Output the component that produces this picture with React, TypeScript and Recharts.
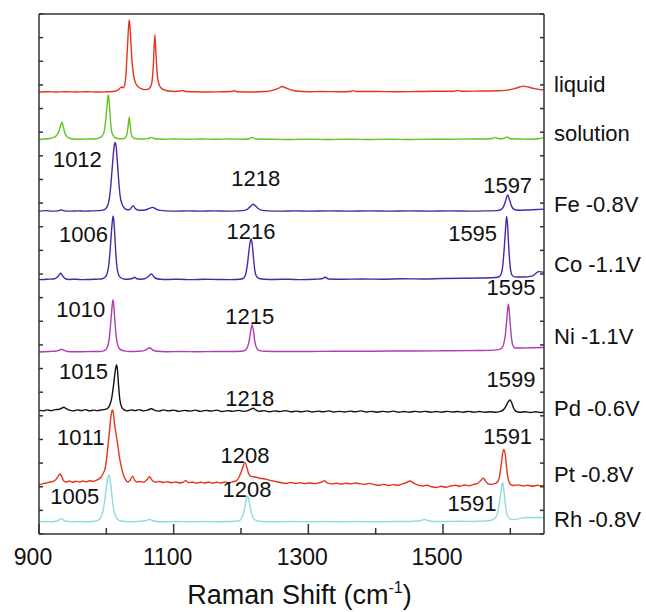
import { LineChart, Line, XAxis, YAxis, ReferenceDot } from "recharts";

type P = [number, number];

// spectra: [raman shift, stacked intensity]
const liquid: P[] = [[900,18.70],[912,18.71],[925,18.70],[940,18.71],[955,18.70],[970,18.71],[985,18.70],[1000,18.71],[1010,18.72],[1017,18.78],[1021,18.88],[1023,18.91],[1025,18.88],[1027,18.98],[1029,19.40],[1031,20.40],[1033,21.45],[1034,21.75],[1035,21.50],[1036.5,20.80],[1038,20.05],[1040,19.50],[1042,19.20],[1045,19.00],[1049,18.88],[1053,18.83],[1057,18.80],[1061,18.81],[1064,18.86],[1066.5,18.97],[1068.5,19.30],[1070,19.95],[1071,20.60],[1072,21.11],[1073,20.70],[1074.5,19.90],[1076,19.35],[1078,19.05],[1081,18.88],[1086,18.79],[1093,18.74],[1102,18.72],[1110,18.74],[1113,18.77],[1117,18.72],[1130,18.71],[1150,18.70],[1170,18.71],[1185,18.72],[1190,18.75],[1195,18.71],[1215,18.70],[1235,18.72],[1248,18.78],[1256,18.86],[1261,18.93],[1266,18.88],[1274,18.79],[1285,18.73],[1300,18.71],[1320,18.72],[1345,18.71],[1362,18.72],[1367,18.76],[1372,18.72],[1400,18.72],[1430,18.71],[1460,18.72],[1490,18.73],[1515,18.73],[1522,18.77],[1528,18.73],[1555,18.74],[1580,18.75],[1595,18.78],[1606,18.84],[1614,18.91],[1619,18.95],[1623,18.93],[1628,18.90],[1636,18.84],[1644,18.80],[1650,18.79]];

const solution: P[] = [[900,16.70],[908,16.71],[915,16.73],[920,16.76],[924,16.81],[927,16.90],[930,17.08],[932,17.28],[934,17.42],[936,17.25],[938,17.00],[941,16.83],[945,16.75],[952,16.71],[962,16.70],[972,16.71],[982,16.71],[988,16.74],[993,16.82],[996,16.95],[998.5,17.35],[1000.5,17.95],[1002,18.40],[1003,18.57],[1004,18.35],[1005.5,17.75],[1007,17.20],[1009,16.92],[1012,16.79],[1017,16.73],[1023,16.72],[1028,16.76],[1030.5,16.90],[1032.5,17.30],[1034,17.63],[1035.5,17.25],[1037,16.92],[1040,16.76],[1046,16.72],[1055,16.71],[1062,16.73],[1067,16.78],[1072,16.72],[1085,16.70],[1100,16.71],[1120,16.70],[1140,16.71],[1160,16.70],[1185,16.71],[1205,16.70],[1212,16.72],[1217,16.78],[1222,16.71],[1245,16.70],[1270,16.69],[1300,16.70],[1330,16.69],[1360,16.70],[1390,16.69],[1420,16.70],[1450,16.69],[1480,16.70],[1510,16.70],[1540,16.71],[1565,16.71],[1573,16.73],[1578,16.78],[1583,16.72],[1590,16.73],[1595,16.80],[1600,16.72],[1615,16.71],[1630,16.70],[1642,16.72],[1650,16.77]];

const fe: P[] = [[900,13.66],[910,13.68],[920,13.66],[928,13.67],[933,13.71],[938,13.67],[948,13.66],[958,13.67],[968,13.66],[978,13.67],[988,13.68],[995,13.70],[999,13.76],[1002,13.90],[1004.5,14.20],[1006.5,14.70],[1008.5,15.40],[1010.5,16.10],[1012,16.48],[1013,16.57],[1014.5,16.40],[1016.5,15.70],[1018.5,14.90],[1020.5,14.30],[1023,13.98],[1026,13.82],[1030,13.73],[1034,13.72],[1037,13.80],[1040,13.89],[1043,13.77],[1048,13.70],[1055,13.70],[1061,13.74],[1065,13.79],[1069,13.82],[1073,13.76],[1080,13.69],[1090,13.67],[1105,13.66],[1120,13.67],[1140,13.66],[1160,13.67],[1180,13.66],[1195,13.67],[1205,13.69],[1210,13.75],[1214,13.86],[1218,13.95],[1221,13.90],[1225,13.78],[1230,13.70],[1240,13.67],[1260,13.66],[1280,13.67],[1300,13.66],[1330,13.67],[1360,13.66],[1390,13.67],[1420,13.66],[1450,13.67],[1480,13.66],[1510,13.67],[1540,13.66],[1565,13.67],[1580,13.68],[1586,13.72],[1590,13.86],[1593,14.10],[1596,14.34],[1599,14.12],[1602,13.86],[1606,13.73],[1612,13.70],[1625,13.71],[1640,13.73],[1650,13.74]];

const co: P[] = [[900,10.76],[912,10.78],[922,10.79],[927,10.86],[930,10.97],[932,11.03],[934.5,10.95],[938,10.82],[945,10.77],[955,10.78],[965,10.76],[975,10.77],[985,10.78],[993,10.79],[998,10.86],[1001,11.00],[1003.5,11.35],[1005.5,11.95],[1007.5,12.75],[1009,13.25],[1010,13.45],[1011,13.30],[1012.5,12.70],[1014,11.90],[1016,11.25],[1018.5,10.95],[1022,10.83],[1028,10.78],[1035,10.79],[1039,10.82],[1042,10.86],[1045,10.80],[1051,10.78],[1057,10.80],[1062,10.88],[1065,10.97],[1067,11.00],[1069.5,10.92],[1073,10.82],[1080,10.78],[1092,10.77],[1108,10.78],[1125,10.76],[1145,10.78],[1165,10.77],[1185,10.76],[1198,10.78],[1203,10.81],[1206.5,10.95],[1209,11.30],[1211.5,11.90],[1213.5,12.35],[1215,12.48],[1216.5,12.30],[1218.5,11.70],[1220.5,11.15],[1223,10.90],[1227,10.81],[1235,10.78],[1250,10.77],[1270,10.78],[1290,10.76],[1310,10.78],[1320,10.80],[1325,10.86],[1330,10.79],[1350,10.78],[1380,10.79],[1410,10.78],[1440,10.80],[1470,10.79],[1500,10.81],[1530,10.82],[1555,10.83],[1572,10.84],[1581,10.86],[1585.5,10.95],[1588.5,11.30],[1591,12.10],[1593,12.95],[1594.5,13.43],[1596,13.05],[1597.5,12.20],[1599.5,11.40],[1602,10.98],[1606,10.88],[1615,10.87],[1625,10.88],[1633,10.92],[1638,11.03],[1642,11.10],[1650,11.07]];

const ni: P[] = [[900,7.70],[915,7.72],[926,7.74],[931,7.79],[934,7.81],[938,7.76],[948,7.71],[962,7.71],[978,7.72],[990,7.72],[997,7.76],[1001,7.88],[1004,8.20],[1006,8.75],[1008,9.45],[1009.3,9.82],[1010,9.90],[1011,9.70],[1012.5,9.10],[1014.5,8.40],[1017,7.98],[1020,7.82],[1026,7.75],[1036,7.72],[1048,7.73],[1056,7.76],[1061,7.83],[1064.5,7.88],[1068,7.80],[1075,7.73],[1090,7.71],[1110,7.72],[1135,7.71],[1160,7.72],[1185,7.72],[1200,7.73],[1206,7.77],[1209.5,7.90],[1212,8.15],[1214.5,8.60],[1216.5,8.84],[1218.5,8.60],[1220.5,8.15],[1223,7.88],[1227,7.77],[1236,7.73],[1260,7.72],[1300,7.72],[1340,7.73],[1380,7.73],[1420,7.74],[1460,7.74],[1500,7.75],[1540,7.76],[1570,7.77],[1582,7.80],[1587,7.86],[1590,8.02],[1592.5,8.40],[1594.5,9.00],[1596,9.50],[1597,9.72],[1598,9.55],[1599.5,9.00],[1601.5,8.35],[1603.5,8.00],[1607,7.87],[1615,7.87],[1630,7.88],[1650,7.89]];

const pd: P[] = [[900,5.24],[906,5.21],[912,5.25],[918,5.22],[924,5.26],[930,5.28],[934,5.33],[937,5.36],[940,5.31],[945,5.24],[951,5.21],[957,5.25],[963,5.22],[969,5.26],[975,5.21],[981,5.24],[987,5.22],[993,5.25],[998,5.27],[1002,5.32],[1005,5.45],[1008,5.75],[1010.5,6.25],[1013,6.85],[1015,7.15],[1016.5,6.95],[1018,6.35],[1020,5.70],[1022.5,5.38],[1026,5.26],[1031,5.21],[1037,5.25],[1043,5.22],[1049,5.26],[1055,5.21],[1061,5.24],[1067,5.30],[1072,5.23],[1078,5.20],[1085,5.25],[1092,5.21],[1100,5.24],[1108,5.19],[1116,5.23],[1124,5.20],[1132,5.24],[1140,5.19],[1148,5.23],[1156,5.20],[1164,5.24],[1172,5.18],[1180,5.22],[1188,5.19],[1196,5.23],[1204,5.19],[1210,5.22],[1214,5.27],[1218,5.32],[1222,5.25],[1227,5.19],[1234,5.22],[1242,5.17],[1250,5.21],[1258,5.18],[1266,5.22],[1274,5.17],[1282,5.20],[1290,5.17],[1298,5.21],[1306,5.16],[1314,5.20],[1322,5.17],[1330,5.21],[1338,5.16],[1346,5.19],[1354,5.16],[1362,5.20],[1370,5.17],[1378,5.21],[1386,5.16],[1394,5.19],[1402,5.15],[1410,5.19],[1418,5.16],[1426,5.20],[1434,5.15],[1442,5.18],[1450,5.15],[1458,5.19],[1466,5.16],[1474,5.19],[1482,5.15],[1490,5.18],[1498,5.15],[1506,5.19],[1514,5.16],[1522,5.18],[1530,5.15],[1538,5.19],[1546,5.15],[1554,5.18],[1562,5.15],[1570,5.17],[1578,5.15],[1584,5.18],[1589,5.24],[1593,5.38],[1596.5,5.58],[1599.5,5.67],[1602,5.55],[1605,5.32],[1608,5.20],[1614,5.15],[1622,5.17],[1630,5.14],[1638,5.17],[1645,5.14],[1650,5.15]];

const pt: P[] = [[900,2.07],[905,2.12],[911,2.16],[917,2.20],[922,2.24],[926,2.33],[929,2.47],[931,2.54],[933.5,2.45],[936,2.28],[940,2.20],[945,2.24],[950,2.19],[955,2.23],[960,2.20],[965,2.24],[970,2.21],[975,2.25],[980,2.23],[985,2.27],[989,2.33],[992,2.40],[995,2.55],[998,2.75],[1000.5,3.20],[1002.5,3.75],[1004.5,4.30],[1006.5,4.90],[1008,5.18],[1009,5.25],[1010.5,5.10],[1012,4.70],[1013.5,4.40],[1015.5,4.05],[1017.5,3.65],[1019.5,3.25],[1021.5,2.95],[1023.5,2.70],[1026,2.45],[1029,2.28],[1032,2.20],[1035,2.26],[1039,2.45],[1042,2.28],[1046,2.20],[1050,2.22],[1055,2.19],[1060,2.28],[1064,2.42],[1068,2.27],[1073,2.19],[1079,2.22],[1085,2.18],[1091,2.21],[1097,2.17],[1103,2.20],[1109,2.16],[1114,2.19],[1118,2.26],[1122,2.17],[1128,2.20],[1134,2.15],[1140,2.19],[1146,2.16],[1152,2.20],[1158,2.15],[1164,2.19],[1170,2.16],[1176,2.20],[1182,2.17],[1188,2.21],[1193,2.25],[1197,2.40],[1200,2.60],[1203,2.85],[1206,3.02],[1208.5,2.85],[1211,2.58],[1214,2.45],[1218,2.42],[1223,2.40],[1228,2.36],[1233,2.34],[1238,2.31],[1243,2.27],[1248,2.24],[1253,2.21],[1260,2.17],[1267,2.14],[1274,2.18],[1281,2.14],[1288,2.17],[1295,2.13],[1302,2.16],[1309,2.13],[1316,2.17],[1321,2.22],[1324,2.26],[1328,2.16],[1335,2.12],[1342,2.15],[1349,2.11],[1356,2.15],[1363,2.12],[1370,2.16],[1377,2.12],[1384,2.10],[1391,2.14],[1398,2.09],[1405,2.06],[1412,2.10],[1419,2.05],[1426,2.09],[1433,2.06],[1440,2.12],[1446,2.18],[1451,2.24],[1456,2.16],[1462,2.08],[1469,2.03],[1476,2.06],[1483,2.00],[1490,1.97],[1497,2.02],[1504,1.98],[1511,2.03],[1518,2.06],[1525,2.02],[1532,2.07],[1539,2.04],[1546,2.10],[1552,2.15],[1556,2.26],[1560,2.36],[1563,2.25],[1567,2.12],[1572,2.10],[1577,2.13],[1581,2.20],[1584,2.45],[1586.5,2.95],[1588.5,3.40],[1590.5,3.58],[1592.5,3.35],[1594.5,2.80],[1597,2.30],[1600,2.10],[1605,2.05],[1612,2.08],[1619,2.03],[1626,2.06],[1633,2.02],[1640,2.06],[1646,2.03],[1650,2.05]];

const rh: P[] = [[900,0.52],[910,0.53],[920,0.52],[927,0.55],[931,0.62],[933.5,0.66],[936,0.60],[940,0.54],[948,0.52],[958,0.53],[968,0.52],[978,0.53],[985,0.55],[989,0.60],[992,0.72],[995,0.98],[997.5,1.40],[999.5,1.85],[1001.5,2.25],[1003,2.45],[1004,2.50],[1005.5,2.35],[1007,2.00],[1009,1.45],[1011,1.05],[1013.5,0.78],[1016,0.64],[1020,0.56],[1028,0.53],[1040,0.52],[1050,0.54],[1057,0.56],[1061,0.59],[1064,0.62],[1068,0.57],[1075,0.53],[1088,0.52],[1105,0.53],[1125,0.52],[1145,0.53],[1165,0.52],[1182,0.53],[1192,0.54],[1198,0.58],[1202,0.72],[1205,1.02],[1207.5,1.42],[1209.5,1.61],[1211.5,1.48],[1213.5,1.15],[1216,0.82],[1219,0.64],[1224,0.56],[1232,0.53],[1250,0.52],[1275,0.53],[1300,0.52],[1325,0.53],[1350,0.52],[1375,0.53],[1400,0.52],[1425,0.53],[1450,0.53],[1463,0.55],[1469,0.59],[1473,0.62],[1478,0.56],[1488,0.53],[1505,0.53],[1525,0.54],[1545,0.53],[1562,0.55],[1572,0.58],[1577,0.66],[1580.5,0.85],[1583,1.20],[1585.5,1.70],[1587.5,2.08],[1588.5,2.17],[1589.5,2.05],[1591.5,1.55],[1593.5,1.05],[1596,0.75],[1600,0.63],[1606,0.61],[1612,0.64],[1618,0.68],[1626,0.70],[1636,0.69],[1645,0.70],[1650,0.69]];

// sample names on the right, at their text baseline level
const sampleNames = ["liquid", "solution", "Fe -0.8V", "Co -1.1V", "Ni -1.1V", "Pd -0.6V", "Pt -0.8V", "Rh -0.8V"];
const sampleLevels = [18.71, 16.64, 13.64, 11.10, 8.03, 4.99, 2.21, 0.31];

// peak annotations (text baseline)
const peakTexts = ["1012", "1218", "1597", "1006", "1216", "1595", "1595", "1010", "1215", "1015", "1599", "1218", "1011", "1208", "1591", "1005", "1208", "1591"];
const peakShifts = [957, 1222, 1596, 966, 1215, 1544, 1601, 962, 1213, 966, 1601, 1213, 962, 1206, 1596, 953, 1209, 1543];
const peakLevels = [15.53, 14.72, 14.41, 12.37, 12.47, 12.40, 10.11, 9.17, 8.88, 6.54, 6.23, 5.42, 3.77, 2.99, 3.80, 1.27, 1.55, 0.97];

const xTicks = [900, 1000, 1100, 1200, 1300, 1400, 1500, 1600];
const xLabelled = [900, 1100, 1300, 1500];
const yTicks = [0, 1, 2, 3, 4, 5, 6, 7, 8, 9, 10, 11, 12, 13, 14, 15, 16, 17, 18, 19, 20, 21, 22];

const FONT = '"Liberation Sans", Arial, Helvetica, sans-serif';
const AXIS = "#333";

const series = [
  { key: "liquid", data: liquid, color: "#e5341f" },
  { key: "solution", data: solution, color: "#62c31f" },
  { key: "fe", data: fe, color: "#4a26a8" },
  { key: "co", data: co, color: "#4a26a8" },
  { key: "ni", data: ni, color: "#b03bb6" },
  { key: "pd", data: pd, color: "#111111" },
  { key: "pt", data: pt, color: "#e5341f" },
  { key: "rh", data: rh, color: "#8edcdc" },
];

const toRows = (d: P[]) => d.map(([x, y]) => ({ x, y }));

function BottomTick({ x, y, payload }: any) {
  const major = xLabelled.includes(payload.value);
  return (
    <g>
      <line x1={x} y1={y} x2={x} y2={y - (major ? 10 : 6)} stroke={AXIS} strokeWidth={1.5} />
      {major && (
        <text x={x - 6} y={y + 31} textAnchor="middle" fontSize={23} fontFamily={FONT} fill="#111">
          {payload.value}
        </text>
      )}
    </g>
  );
}

const TopTick = ({ x, y }: any) => <line x1={x} y1={y} x2={x} y2={y + 3} stroke={AXIS} strokeWidth={1.5} />;
const LeftTick = ({ x, y }: any) => <line x1={x} y1={y} x2={x + 4} y2={y} stroke={AXIS} strokeWidth={1.5} />;
const RightTick = ({ x, y }: any) => <line x1={x} y1={y} x2={x - 4} y2={y} stroke={AXIS} strokeWidth={1.5} />;

function AxisTitle({ viewBox }: any) {
  const cx = viewBox.x + viewBox.width / 2 + 8;
  const y = viewBox.y + 70;
  return (
    <text x={cx} y={y} textAnchor="middle" fontSize={27} fontFamily={FONT} fill="#111">
      Raman Shift (cm
      <tspan fontSize={16} dy={-11}>-1</tspan>
      <tspan dy={11}>)</tspan>
    </text>
  );
}

export default function App() {
  return (
    <div style={{ position: "absolute", left: 0, top: 0, background: "#fff" }}>
      <LineChart width={646} height={612} margin={{ top: 13, right: 101, bottom: 77, left: 38 }}>
        <XAxis
          dataKey="x"
          type="number"
          domain={[900, 1650]}
          ticks={xTicks}
          interval={0}
          allowDataOverflow
          height={1}
          tickSize={0}
          tickMargin={0}
          tickLine={false}
          tick={<BottomTick />}
          axisLine={{ stroke: AXIS, strokeWidth: 1.5 }}
          label={<AxisTitle />}
        />
        <XAxis
          xAxisId="top"
          orientation="top"
          type="number"
          domain={[900, 1650]}
          ticks={xTicks}
          interval={0}
          allowDataOverflow
          height={1}
          tickSize={0}
          tickMargin={0}
          tickLine={false}
          tick={<TopTick />}
          axisLine={{ stroke: AXIS, strokeWidth: 1.5 }}
        />
        <YAxis
          type="number"
          domain={[0, 22]}
          ticks={yTicks}
          interval={0}
          allowDataOverflow
          width={1}
          tickSize={0}
          tickMargin={0}
          tickLine={false}
          tick={<LeftTick />}
          axisLine={{ stroke: AXIS, strokeWidth: 1.5 }}
        />
        <YAxis
          yAxisId="right"
          orientation="right"
          type="number"
          domain={[0, 22]}
          ticks={yTicks}
          interval={0}
          allowDataOverflow
          width={1}
          tickSize={0}
          tickMargin={0}
          tickLine={false}
          tick={<RightTick />}
          axisLine={{ stroke: AXIS, strokeWidth: 1.5 }}
        />
        {series.map((s) => (
          <Line
            key={s.key}
            data={toRows(s.data)}
            dataKey="y"
            type="monotone"
            stroke={s.color}
            strokeWidth={1.4}
            dot={false}
            activeDot={false}
            isAnimationActive={false}
          />
        ))}
        {peakTexts.map((t, i) => (
          <ReferenceDot
            key={`pk${i}`}
            x={peakShifts[i]}
            y={peakLevels[i]}
            r={0}
            ifOverflow="visible"
            shape={(p: any) => (
              <text x={p.cx} y={p.cy} textAnchor="middle" fontSize={22} fontFamily={FONT} fill="#111">
                {t}
              </text>
            )}
          />
        ))}
        {sampleNames.map((n, i) => (
          <ReferenceDot
            key={`nm${i}`}
            x={1650}
            y={sampleLevels[i]}
            r={0}
            ifOverflow="visible"
            shape={(p: any) => (
              <text x={p.cx + 10} y={p.cy} textAnchor="start" fontSize={22} fontFamily={FONT} fill="#111">
                {n}
              </text>
            )}
          />
        ))}
      </LineChart>
    </div>
  );
}
